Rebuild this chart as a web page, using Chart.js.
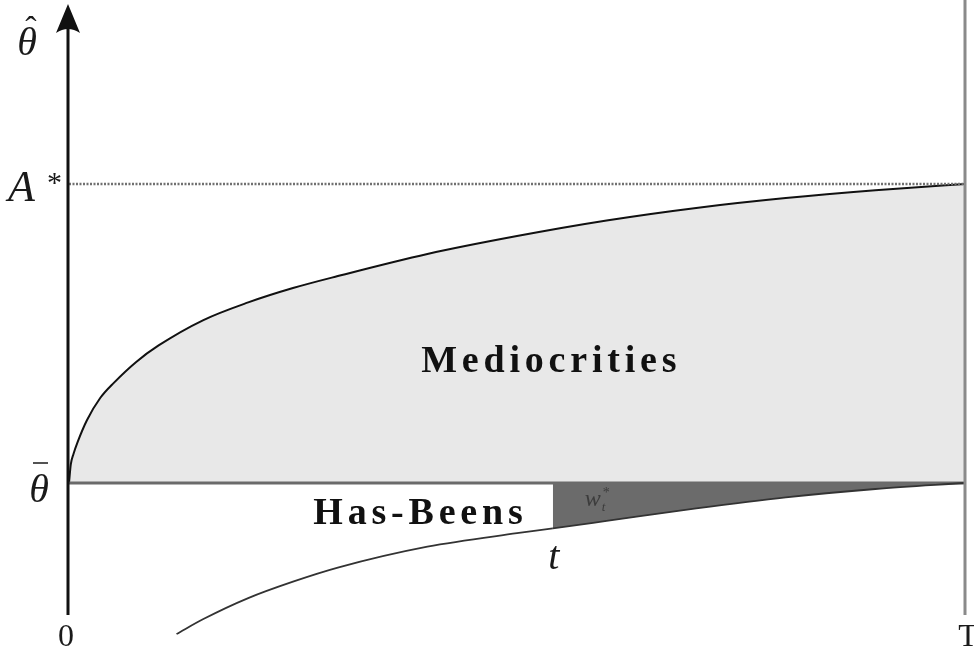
<!DOCTYPE html>
<html>
<head>
<meta charset="utf-8">
<script src="https://cdn.jsdelivr.net/npm/chart.js@4/dist/chart.umd.min.js"></script>
<style>
  html, body { margin: 0; padding: 0; background: #ffffff; }
  canvas { display: block; }
</style>
</head>
<body>
<canvas id="c" width="974" height="653" style="width:974px;height:653px"></canvas>
<script>
// Time runs from 0 to T; ability is measured so that θ̄ = 0 and A* = 1.
const T_END = 10;
const T_EXIT = 5.4;          // the date t marked on the time axis
const THETA_BAR = 0;
const A_STAR = 1;

// Upper boundary: posterior threshold rising from θ̄ towards A*
const upperT = [0, 0.02, 0.05, 0.1, 0.2, 0.35, 0.5, 0.75, 1, 1.5, 2, 2.5, 3, 4, 5, 6, 7, 8, 9, 10];
const upperY = [0, 0.062, 0.097, 0.14, 0.21, 0.285, 0.335, 0.405, 0.46, 0.545, 0.604, 0.652, 0.692, 0.766, 0.826, 0.878, 0.920, 0.953, 0.979, 1.0];

// Lower boundary: has-been threshold, meeting θ̄ at T
const lowerT = [1.2, 1.5, 2, 2.5, 3, 4, 5, 5.4, 6, 7, 8, 9, 10];
const lowerY = [-0.505, -0.455, -0.385, -0.33, -0.283, -0.213, -0.168, -0.152, -0.127, -0.085, -0.048, -0.020, 0];

// Axis labels
const xTickValues = [0, T_END];
const xTickLabels = ['0', 'T'];

// Region labels
const regionNames = ['Mediocrities', 'Has-Beens'];
const regionAnchorT = [5.36, 3.9];
const regionAnchorY = [0.371, -0.137];

const LIGHT = '#e8e8e8';
const DARK = '#6b6b6b';

const toPoints = (xs, ys) => xs.map((x, i) => ({ x: x, y: ys[i] }));

const decorations = {
  id: 'decorations',
  afterDatasetsDraw(chart) {
    const ctx = chart.ctx;
    const xs = chart.scales.x, ys = chart.scales.y;
    const x0 = xs.getPixelForValue(0);
    const xT = xs.getPixelForValue(T_END);
    const yBar = ys.getPixelForValue(THETA_BAR);
    const yA = ys.getPixelForValue(A_STAR);
    const axisBottom = 615;

    ctx.save();
    // vertical line at T
    ctx.strokeStyle = '#8a8a8a';
    ctx.lineWidth = 3;
    ctx.beginPath();
    ctx.moveTo(xT, 0);
    ctx.lineTo(xT, axisBottom);
    ctx.stroke();

    // ability axis with arrow head
    ctx.strokeStyle = '#111111';
    ctx.lineWidth = 3;
    ctx.beginPath();
    ctx.moveTo(x0 - 1, axisBottom);
    ctx.lineTo(x0 - 1, 24);
    ctx.stroke();
    ctx.fillStyle = '#111111';
    ctx.beginPath();
    ctx.moveTo(x0 - 1, 4);
    ctx.lineTo(x0 - 13, 33);
    ctx.quadraticCurveTo(x0 - 1, 25, x0 + 11, 33);
    ctx.closePath();
    ctx.fill();

    // y labels
    ctx.fillStyle = '#1a1a1a';
    ctx.textAlign = 'center';
    ctx.textBaseline = 'alphabetic';
    ctx.font = 'italic 40px "Liberation Serif"';
    ctx.fillText('θ', 27, 55);
    ctx.font = '34px "Liberation Serif"';
    ctx.fillText('ˆ', 31, 40);

    ctx.font = 'italic 40px "Liberation Serif"';
    ctx.fillText('θ', 39, yBar + 19);
    ctx.lineWidth = 1.5;
    ctx.strokeStyle = '#1a1a1a';
    ctx.beginPath();
    ctx.moveTo(33, yBar - 20);
    ctx.lineTo(48, yBar - 20);
    ctx.stroke();

    ctx.textAlign = 'left';
    ctx.font = 'italic 44px "Liberation Serif"';
    ctx.fillText('A', 8, yA + 17);
    ctx.font = '30px "Liberation Serif"';
    ctx.fillText('*', 47, yA + 8);

    // time axis ticks
    ctx.textAlign = 'center';
    ctx.font = '32px "Liberation Serif"';
    xTickValues.forEach((v, i) => {
      ctx.fillText(xTickLabels[i], xs.getPixelForValue(v) + (i === 0 ? -3 : 3), 646);
    });

    // date t
    ctx.font = 'italic 40px "Liberation Serif"';
    ctx.fillText('t', xs.getPixelForValue(T_EXIT) + 1, 569);

    // w label inside the dark wedge
    const wx = xs.getPixelForValue(T_EXIT) + 32;
    ctx.fillStyle = '#3c3c3c';
    ctx.textAlign = 'left';
    ctx.font = 'italic 24px "Liberation Serif"';
    ctx.fillText('w', wx, yBar + 23);
    ctx.font = 'italic 13px "Liberation Serif"';
    ctx.fillText('t', wx + 17, yBar + 28);
    ctx.font = '14px "Liberation Serif"';
    ctx.fillText('*', wx + 18, yBar + 14);

    // region names
    ctx.fillStyle = '#111111';
    ctx.font = 'bold 38px "Liberation Serif"';
    if ('letterSpacing' in ctx) ctx.letterSpacing = '4.8px';
    regionNames.forEach((name, i) => {
      const w = ctx.measureText(name).width;
      const cx = xs.getPixelForValue(regionAnchorT[i]);
      const cy = ys.getPixelForValue(regionAnchorY[i]);
      ctx.fillText(name, cx - w / 2 + 2, cy);
    });
    ctx.restore();
  }
};

new Chart(document.getElementById('c'), {
  type: 'line',
  data: {
    datasets: [
      {
        // Has-Beens boundary; the wedge after t is shaded
        data: toPoints(lowerT, lowerY),
        borderColor: '#333333',
        borderWidth: 1.8,
        fill: 'origin',
        backgroundColor: 'rgba(0,0,0,0)',
        segment: {
          backgroundColor: c => (c.p0.parsed.x >= T_EXIT - 1e-9 ? DARK : 'rgba(0,0,0,0)')
        },
        cubicInterpolationMode: 'monotone',
        pointRadius: 0,
        order: 1
      },
      {
        // A* reference level
        data: [{ x: 0, y: A_STAR }, { x: T_END, y: A_STAR }],
        borderColor: '#707070',
        borderWidth: 2.5,
        borderDash: [2, 1.5],
        fill: false,
        pointRadius: 0,
        order: 2
      },
      {
        // θ̄ level
        data: [{ x: 0, y: THETA_BAR }, { x: T_END, y: THETA_BAR }],
        borderColor: '#6a6a6a',
        borderWidth: 3,
        fill: false,
        pointRadius: 0,
        order: 3
      },
      {
        // Mediocrities region under the upper boundary
        data: toPoints(upperT, upperY),
        borderColor: '#111111',
        borderWidth: 2,
        fill: 'origin',
        backgroundColor: LIGHT,
        cubicInterpolationMode: 'monotone',
        pointRadius: 0,
        order: 5
      }
    ]
  },
  options: {
    responsive: false,
    animation: false,
    events: [],
    layout: { padding: { left: 69, right: 9, top: 34.5, bottom: 5.55 } },
    scales: {
      x: { type: 'linear', min: 0, max: T_END, display: false },
      y: { type: 'linear', min: -0.55, max: 1.5, display: false }
    },
    plugins: {
      legend: { display: false },
      tooltip: { enabled: false }
    }
  },
  plugins: [decorations]
});
</script>
</body>
</html>
